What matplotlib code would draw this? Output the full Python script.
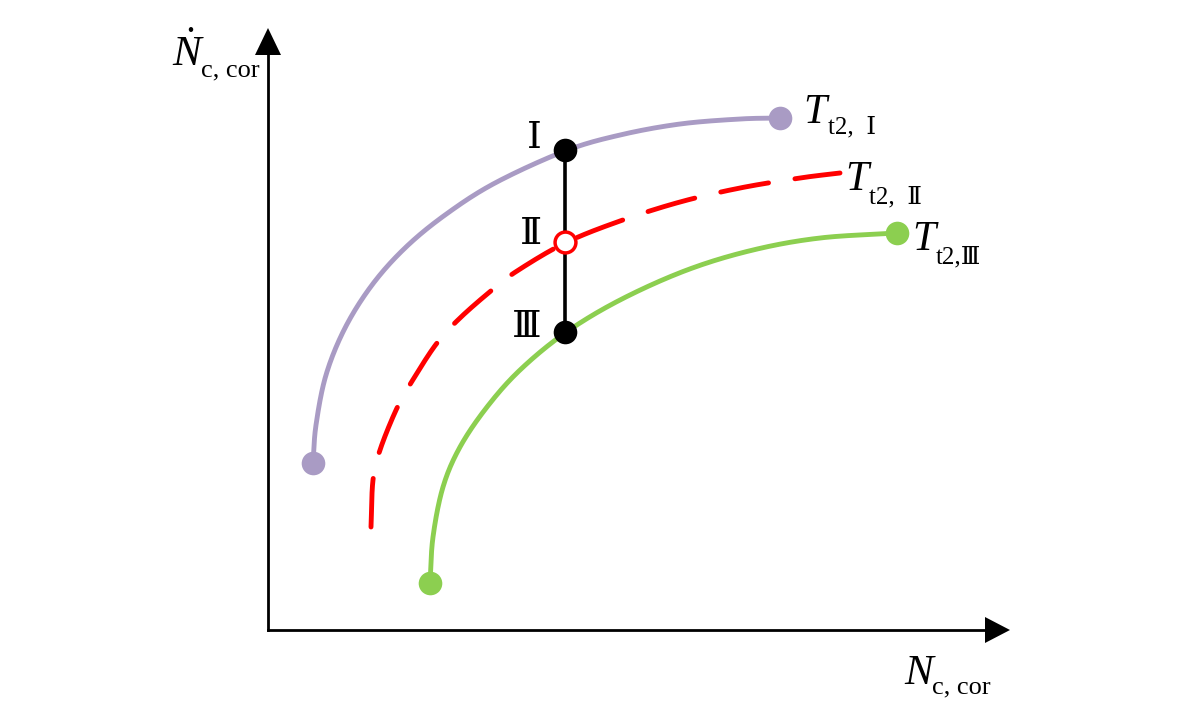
import matplotlib
matplotlib.use("Agg")
import matplotlib.pyplot as plt
import numpy as np

# Curve points (image pixel coordinates)
purple_x = [313, 316, 326, 345, 372, 405, 445, 495, 565, 620, 680, 740, 780]
purple_y = [463, 425, 375, 328, 285, 248, 215, 183, 151, 135, 124, 119, 118]
red_x = [371, 373, 380, 397, 414, 437, 460, 492, 517, 565, 620, 680, 740, 800, 840]
red_y = [527, 480, 450, 408, 378, 343, 318, 290, 271, 243, 221, 202, 188, 178, 173]
green_x = [430, 433, 443, 460, 487, 520, 565, 620, 687, 753, 820, 897]
green_y = [583, 537, 487, 447, 407, 370, 333, 300, 270, 250, 238, 233]
op_x = 565
op_y = [150, 242, 332]
op_labels = ["Ⅰ", "Ⅱ", "Ⅲ"]
curve_subs = ["t2,  Ⅰ", "t2,  Ⅱ", "t2,Ⅲ"]

plt.rcParams['mathtext.fontset'] = 'custom'
plt.rcParams['mathtext.rm'] = 'Liberation Serif'
plt.rcParams['mathtext.it'] = 'Liberation Serif:italic'

fig = plt.figure(figsize=(11.81, 7.08), dpi=100)
ax = fig.add_axes([0, 0, 1, 1])
ax.set_xlim(0, 1181)
ax.set_ylim(708, 0)
ax.axis('off')

serif = ['Liberation Serif', 'DejaVu Serif', 'Noto Sans CJK SC']

# axes with arrows
ax.plot([268, 268], [630, 50], color='black', lw=2)
ax.plot([268, 990], [630, 630], color='black', lw=2)
ax.fill([255, 281, 268], [55, 55, 28], color='black', lw=0)
ax.fill([985, 985, 1010], [617, 643, 630], color='black', lw=0)

purple = '#a99bc4'
red = '#ff0000'
green = '#8ccf50'


def catmull(x, y, n=30):
    P = np.column_stack([x, y]).astype(float)
    P = np.vstack([2 * P[0] - P[1], P, 2 * P[-1] - P[-2]])
    out = []
    for i in range(1, len(P) - 2):
        p0, p1, p2, p3 = P[i - 1], P[i], P[i + 1], P[i + 2]
        t = np.linspace(0, 1, n, endpoint=False)[:, None]
        seg = 0.5 * ((2 * p1) + (-p0 + p2) * t + (2 * p0 - 5 * p1 + 4 * p2 - p3) * t ** 2
                     + (-p0 + 3 * p1 - 3 * p2 + p3) * t ** 3)
        out.append(seg)
    out.append(P[-2][None, :])
    out = np.vstack(out)
    return out[:, 0], out[:, 1]


px, py = catmull(purple_x, purple_y)
ax.plot(px, py, color=purple, lw=3.5, solid_capstyle='round')
rx, ry = catmull(red_x, red_y)
ax.plot(rx, ry, color=red, lw=3.5, dashes=(10, 5.5), dash_capstyle='round')
gx, gy = catmull(green_x, green_y)
ax.plot(gx, gy, color=green, lw=3.5, solid_capstyle='round')

ax.plot([purple_x[0], purple_x[-1]], [purple_y[0], purple_y[-1]], 'o', color=purple, ms=17, mec='none', ls='none')
ax.plot([green_x[0], green_x[-1]], [green_y[0], green_y[-1]], 'o', color=green, ms=17, mec='none', ls='none')

ax.plot([op_x, op_x], [op_y[0], op_y[-1]], color='black', lw=2.6)
ax.plot([op_x, op_x], [op_y[0], op_y[2]], 'o', color='black', ms=17, mec='none', ls='none')
ax.plot([op_x], [op_y[1]], 'o', mfc='white', mec=red, mew=2.5, ms=15)

lab_base = [148, 244, 337]
for yb, lab in zip(lab_base, op_labels):
    ax.text(542, yb, lab, family=serif, fontsize=27, ha='right', va='baseline')

# curve labels
tpos = [(803, 123), (845, 190), (912, 250)]
soff = [(25, 10), (24, 13), (24, 13)]
for (tx, ty), (dx, dy), sub in zip(tpos, soff, curve_subs):
    ax.text(tx, ty, 'T', family='Liberation Serif', style='italic', fontsize=30, ha='left', va='baseline')
    ax.text(tx + dx, ty + dy, sub, family=serif, fontsize=18, ha='left', va='baseline')

# axis labels
ax.text(172, 66, r'$\dot{N}$', fontsize=31, ha='left', va='baseline')
ax.text(201, 76, 'c, cor', family=serif, fontsize=19, ha='left', va='baseline')
ax.text(904, 684, r'$N$', fontsize=31, ha='left', va='baseline')
ax.text(932, 693, 'c, cor', family=serif, fontsize=19, ha='left', va='baseline')

fig.savefig('out.png', dpi=100)
